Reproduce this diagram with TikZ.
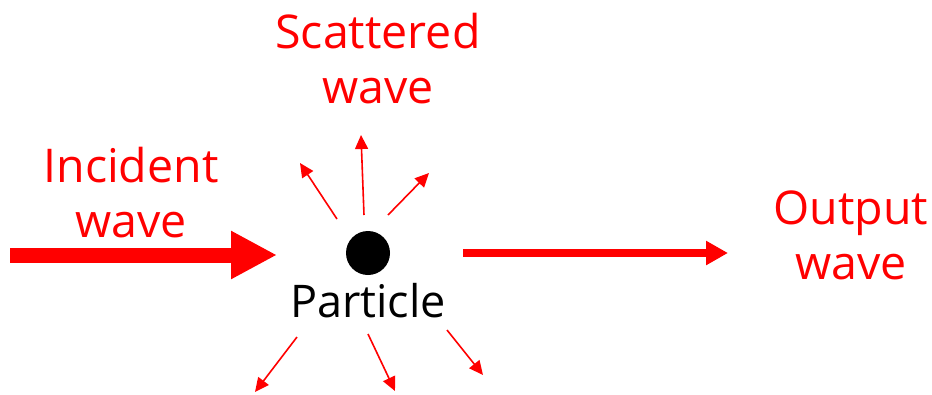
\documentclass[tikz,border=0pt]{standalone}
\usepackage{fontspec}
\setmainfont{Open Sans}
\usetikzlibrary{arrows.meta}
\begin{document}
\begin{tikzpicture}[x=1pt,y=-1pt,
    wavelabel/.style={text=red,align=center,font=\fontsize{46.5}{55}\selectfont,inner sep=0pt,anchor=base},
    scatter/.style={red,line width=1.6pt,-{Triangle[length=14pt,width=13pt]}}]
    \useasboundingbox (0,0) rectangle (932,394);
    % particle
    \node[circle,fill=black,minimum size=44pt,inner sep=0pt] (dot) at (368,253) {};
    \node[font=\fontsize{45}{50}\selectfont,anchor=base,inner sep=0pt] (particle) at (368,317) {Particle};
    % labels
    \node[wavelabel] (incident) at (131,237) {Incident\\wave};
    \node[wavelabel] (scattered) at (378,103) {Scattered\\wave};
    \node[wavelabel] (output) at (851,279) {Output\\wave};
    % incident and output waves
    \coordinate (inA) at (10,255);
    \coordinate (inB) at (277,255);
    \draw[red,line width=15pt,-{Triangle[length=46pt,width=45pt]}] (inA) -- (inB);
    \coordinate (outA) at (463,253);
    \coordinate (outB) at (728,253);
    \draw[red,line width=8pt,-{Triangle[length=22pt,width=23pt]}] (outA) -- (outB);
    % scattered waves
    \foreach \i/\sx/\sy/\ex/\ey in {1/364/215/361/135, 2/337/219/300/163, 3/388/215/429/173,
                                    4/297/337/255/392, 5/368/334/395/391, 6/447/330/483/375} {
        \coordinate (s\i) at (\sx,\sy);
        \coordinate (e\i) at (\ex,\ey);
        \draw[scatter] (s\i) -- (e\i);
    }
\end{tikzpicture}
\end{document}
